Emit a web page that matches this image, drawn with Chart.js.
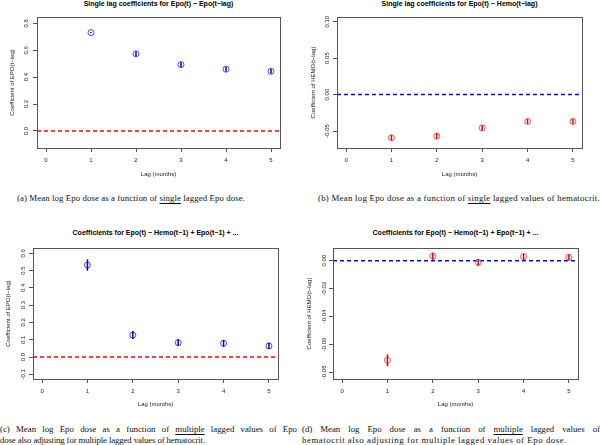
<!DOCTYPE html>
<html>
<head>
<meta charset="utf-8">
<script src="https://cdn.jsdelivr.net/npm/chart.js@4.4.1/dist/chart.umd.min.js"></script>
<style>
  html, body { margin: 0; padding: 0; background: #fff; }
  body { width: 600px; height: 445px; position: relative; overflow: hidden; }
  canvas { position: absolute; }
  .ttl { position: absolute; font: bold 7px 'Liberation Sans', Arial, sans-serif; line-height: 8px; text-align: center; color: #000; white-space: nowrap; }
  .cap { position: absolute; font-family: 'Liberation Serif', 'DejaVu Serif', serif; font-size: 8.8px; line-height: 11px; color: #111; white-space: nowrap; }
  .cap u { text-underline-offset: 1.5px; }
  .just { text-align: justify; text-align-last: justify; }
</style>
</head>
<body>
<div class="cap" data-w="228" style="left:17px; top:193px">(a) Mean log Epo dose as a function of <u>single</u> lagged Epo dose.</div>
<div class="cap" data-w="282" style="left:318px; top:193px">(b) Mean log Epo dose as a function of <u>single</u> lagged values of hematocrit.</div>
<div class="cap just" style="left:0px; top:424px; width:297px">(c) Mean log Epo dose as a function of <u>multiple</u> lagged values of Epo</div>
<div class="cap" data-w="205" style="left:0px; top:434.5px">dose also adjusting for multiple lagged values of hematocrit.</div>
<div class="cap just" style="left:302px; top:424px; width:298px">(d) Mean log Epo dose as a function of <u>multiple</u> lagged values of</div>
<div class="cap" data-w="265" style="left:302px; top:434.5px">hematocrit also adjusting for multiple lagged values of Epo dose.</div>

<script>
// lags on the x axis
const lags = [1, 2, 3, 4, 5]
const xTicks = [0, 1, 2, 3, 4, 5]

// (a) single lag, Epo(t) ~ Epo(t-lag)
const epoSingle = [0.731, 0.573, 0.493, 0.459, 0.444]
const epoSingleErr = [0.004, 0.018, 0.018, 0.017, 0.017]
const yTicksA = [0, 0.2, 0.4, 0.6, 0.8]

// (b) single lag, Epo(t) ~ Hemo(t-lag)
const hemoSingle = [-0.0592, -0.0571, -0.0457, -0.0368, -0.0368]
const hemoSingleErr = [0.0036, 0.0036, 0.0036, 0.0034, 0.0034]
const yTicksB = [-0.05, 0, 0.05, 0.1]

// (c) multiple lags, Epo coefficients
const epoMulti = [0.532, 0.127, 0.083, 0.079, 0.064]
const epoMultiErr = [0.033, 0.023, 0.02, 0.02, 0.018]
const yTicksC = [-0.1, 0, 0.1, 0.2, 0.3, 0.4, 0.5, 0.6]

// (d) multiple lags, Hemo coefficients
const hemoMulti = [-0.0714, 0.0032, -0.0012, 0.0029, 0.0024]
const hemoMultiErr = [0.0043, 0.0025, 0.0025, 0.0022, 0.002]
const yTicksD = [-0.08, -0.06, -0.04, -0.02, 0]

const titles = [
  'Single lag coefficients for Epo(t) ~ Epo(t\u2212lag)',
  'Single lag coefficients for Epo(t) ~ Hemo(t\u2212lag)',
  'Coefficients for Epo(t) ~  Hemo(t\u22121) + Epo(t\u22121) + ...',
  'Coefficients for Epo(t) ~  Hemo(t\u22121) + Epo(t\u22121) + ...',
]
const xLabel = 'Lag (months)'
const epoLabel = 'Coefficient of EPO(t\u2212lag)'
const hemoLabel = 'Coefficient of HEMO(t\u2212lag)'

const blue = { mark: '#4646ff', bar: '#0000cc', line: '#0000ff' }
const red = { mark: '#ff4a4a', bar: '#dd0000', line: '#ff0000' }

const tickFont = { family: "'Liberation Sans', Arial, sans-serif", size: 6 }
const measureCtx = document.createElement('canvas').getContext('2d')
measureCtx.font = "6px 'Liberation Sans', Arial, sans-serif"

const panels = [
  { title: titles[0], yLabel: epoLabel, values: epoSingle, errs: epoSingleErr, yTicks: yTicksA, digits: 1,
    yMin: -0.1263, yMax: 0.8468, col: blue, refCol: red.line, originX: 0,
    box: [37, 17, 280, 148], titleY: 4, yTitleX: 12, yTickX: 26, xTickY: 160, xTitleY: 174 },
  { title: titles[1], yLabel: hemoLabel, values: hemoSingle, errs: hemoSingleErr, yTicks: yTicksB, digits: 2,
    yMin: -0.0733, yMax: 0.1064, col: red, refCol: blue.line, originX: 300,
    box: [337, 17, 582, 148], titleY: 4, yTitleX: 313, yTickX: 327, xTickY: 160, xTitleY: 174 },
  { title: titles[2], yLabel: epoLabel, values: epoMulti, errs: epoMultiErr, yTicks: yTicksC, digits: 1,
    yMin: -0.1272, yMax: 0.6307, col: blue, refCol: red.line, originX: 0,
    box: [33, 248, 278, 379], titleY: 233, yTitleX: 8, yTickX: 23, xTickY: 391, xTitleY: 404 },
  { title: titles[3], yLabel: hemoLabel, values: hemoMulti, errs: hemoMultiErr, yTicks: yTicksD, digits: 2,
    yMin: -0.0848, yMax: 0.0091, col: red, refCol: blue.line, originX: 300,
    box: [333, 248, 578, 379], titleY: 233, yTitleX: 309, yTickX: 324, xTickY: 391, xTitleY: 404 },
]

// dashed zero line under the points, error bars and the R style box on top
const rStyle = {
  id: 'rstyle',
  beforeDatasetsDraw(chart, args, opts) {
    const { ctx, chartArea: a, scales: { y } } = chart
    const py = y.getPixelForValue(opts.refValue)
    ctx.save()
    ctx.strokeStyle = opts.refColor
    ctx.lineWidth = 1.5
    ctx.setLineDash([4, 3])
    ctx.beginPath()
    ctx.moveTo(a.left, py)
    ctx.lineTo(a.right, py)
    ctx.stroke()
    ctx.restore()
  },
  afterDatasetsDraw(chart) {
    const { ctx, chartArea: a, scales: { x, y } } = chart
    ctx.save()
    chart.data.datasets.forEach((ds) => {
      ctx.strokeStyle = ds.barColor
      ctx.lineWidth = 1.5
      ds.data.forEach((pt, i) => {
        const px = x.getPixelForValue(pt.x)
        ctx.beginPath()
        ctx.moveTo(px, y.getPixelForValue(pt.y - ds.errors[i]))
        ctx.lineTo(px, y.getPixelForValue(pt.y + ds.errors[i]))
        ctx.stroke()
      })
    })
    ctx.strokeStyle = '#555'
    ctx.lineWidth = 1
    ctx.strokeRect(Math.round(a.left) + 0.5, Math.round(a.top) + 0.5, Math.round(a.right - a.left), Math.round(a.bottom - a.top))
    ctx.restore()
  },
}

panels.forEach((p) => {
  const [aL, aT, aR, aB] = p.box
  const yW = aL - p.originX
  const padTop = 10
  const padRight = 12
  const xH = Math.round(p.xTitleY + 3.6 + 1 - aB)
  const top = aT - padTop
  const w = yW + (aR - aL) + padRight
  const h = aB - top + xH

  const ttl = document.createElement('div')
  ttl.className = 'ttl'
  ttl.textContent = p.title
  ttl.style.left = aL + 'px'
  ttl.style.width = (aR - aL) + 'px'
  ttl.style.top = (p.titleY - 4) + 'px'
  document.body.appendChild(ttl)

  const canvas = document.createElement('canvas')
  canvas.width = w
  canvas.height = h
  canvas.style.left = p.originX + 'px'
  canvas.style.top = top + 'px'
  document.body.appendChild(canvas)

  const labels = p.yTicks.map((v) => v.toFixed(p.digits))
  const widest = Math.max(...labels.map((t) => measureCtx.measureText(t).width))

  new Chart(canvas.getContext('2d'), {
    type: 'scatter',
    data: {
      datasets: [
        {
          data: lags.map((lag, i) => ({ x: lag, y: p.values[i] })),
          errors: p.errs,
          barColor: p.col.bar,
          pointStyle: 'circle',
          pointRadius: 3,
          pointBorderWidth: 1,
          borderColor: p.col.mark,
          backgroundColor: 'rgba(0,0,0,0)',
        },
      ],
    },
    options: {
      responsive: false,
      animation: false,
      devicePixelRatio: 1,
      layout: { padding: { top: padTop, right: padRight, left: 0, bottom: 0 } },
      plugins: {
        legend: { display: false },
        tooltip: { enabled: false },
        rstyle: { refValue: 0, refColor: p.refCol },
      },
      scales: {
        x: {
          type: 'linear',
          min: -0.2,
          max: 5.2,
          afterBuildTicks: (s) => { s.ticks = xTicks.map((v) => ({ value: v })) },
          afterFit: (s) => { s.height = xH },
          ticks: { font: tickFont, color: '#222', padding: p.xTickY - aB - 4 - 3.6, maxRotation: 0, autoSkip: false, callback: (v) => String(v) },
          grid: { drawOnChartArea: false, drawTicks: true, tickLength: 4, color: '#555' },
          border: { display: false },
          title: { display: true, text: xLabel, font: tickFont, color: '#222', padding: { top: 0, bottom: 1 } },
        },
        y: {
          type: 'linear',
          min: p.yMin,
          max: p.yMax,
          afterBuildTicks: (s) => { s.ticks = p.yTicks.map((v) => ({ value: v })) },
          afterFit: (s) => { s.width = yW },
          ticks: {
            font: tickFont, color: '#222', minRotation: 90, maxRotation: 90, crossAlign: 'center', autoSkip: false,
            padding: aL - 4 - p.yTickX - widest / 2,
            callback: (v) => v.toFixed(p.digits),
          },
          grid: { drawOnChartArea: false, drawTicks: true, tickLength: 4, color: '#555' },
          border: { display: false },
          title: { display: true, text: p.yLabel, font: tickFont, color: '#222', padding: { top: p.yTitleX - p.originX - 3.6, bottom: 0 } },
        },
      },
    },
    plugins: [rStyle],
  })
})

// stretch single caption lines to the widths in the reference, same font size everywhere
document.querySelectorAll('.cap[data-w]').forEach((el) => {
  const w = el.getBoundingClientRect().width
  const n = el.textContent.length
  el.style.letterSpacing = ((Number(el.dataset.w) - w) / n).toFixed(3) + 'px'
})
</script>
</body>
</html>
